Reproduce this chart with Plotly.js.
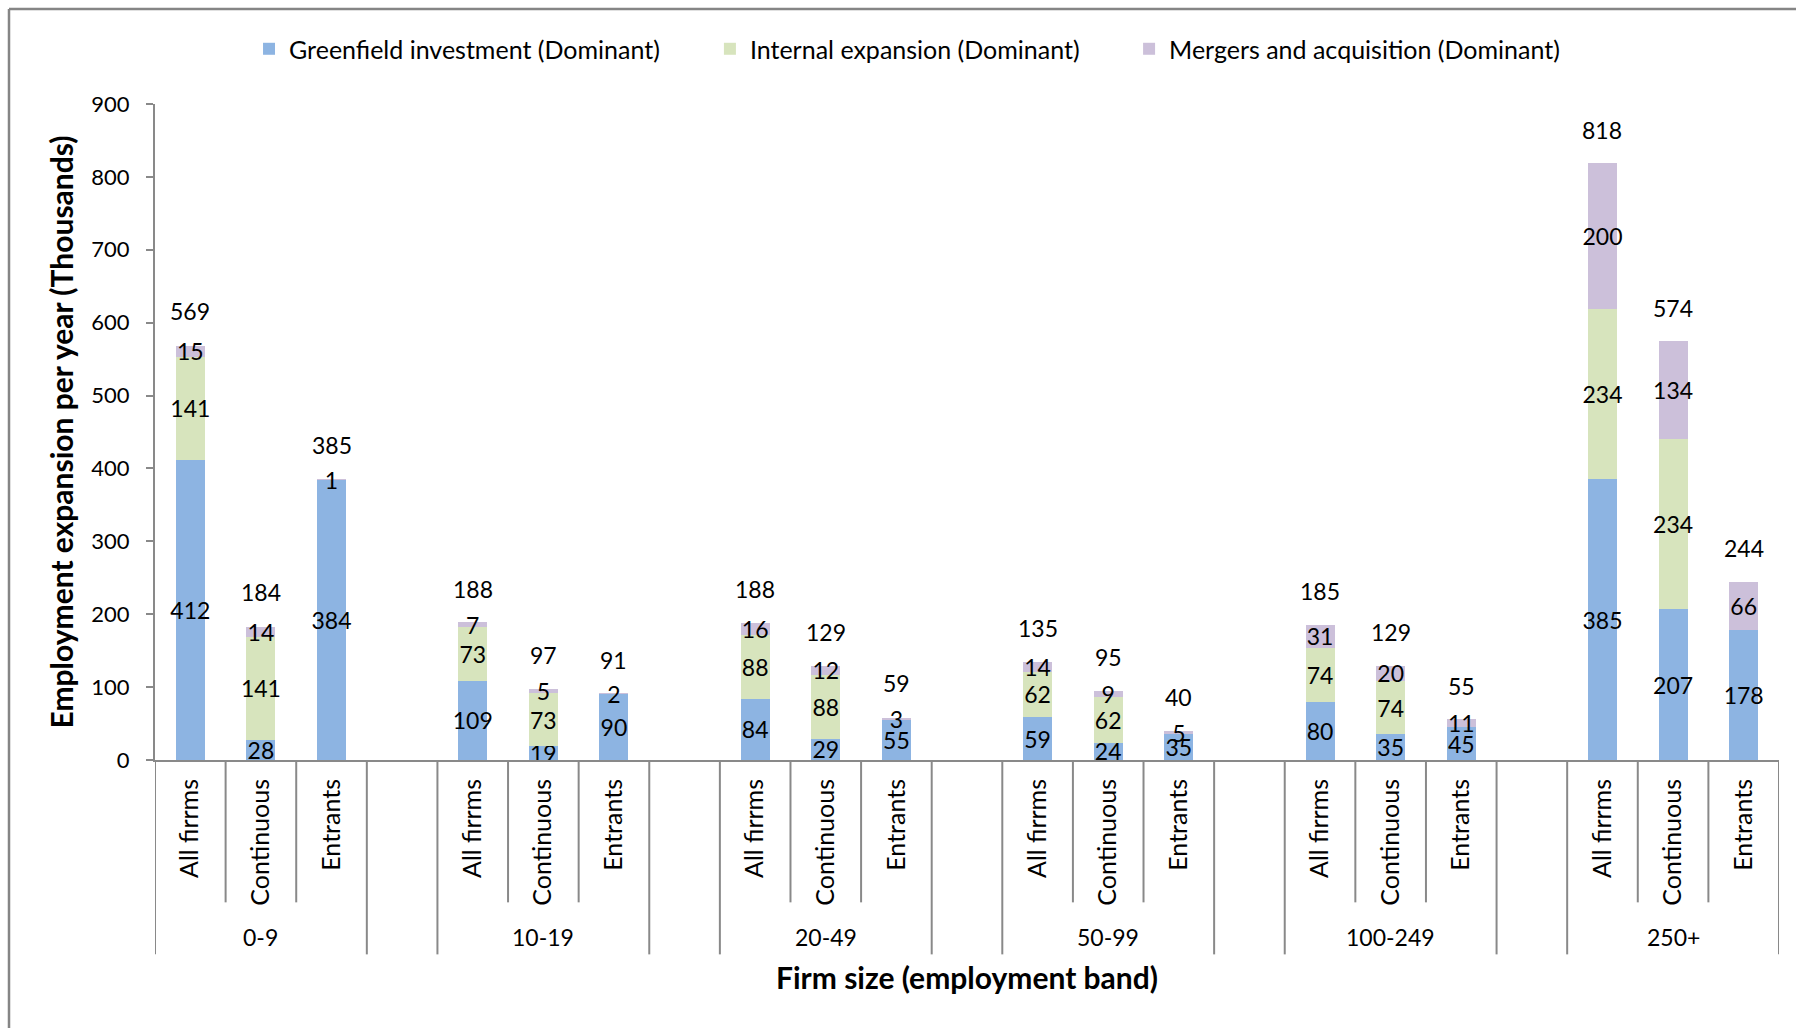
<!DOCTYPE html>
<html>
<head>
<meta charset="utf-8">
<script src="https://cdn.plot.ly/plotly-3.0.1.min.js"></script>
<style>html,body{margin:0;padding:0;background:#fff;}#chart{width:1796px;height:1028px;}</style>
</head>
<body>
<div id="chart"></div>
<script>
// ---- Data ----
const groups = ['0-9', '10-19', '20-49', '50-99', '100-249', '250+'];
const subcategories = ['All firrms', 'Continuous', 'Entrants'];
const greenfield = [412, 28, 384, 109, 19, 90, 84, 29, 55, 59, 24, 35, 80, 35, 45, 385, 207, 178];
const internal   = [141, 141, 0, 73, 73, 0, 88, 88, 0, 62, 62, 0, 74, 74, 0, 234, 234, 0];
const mergers    = [15, 14, 1, 7, 5, 2, 16, 12, 3, 14, 9, 5, 31, 20, 11, 200, 134, 66];
const totals     = [569, 184, 385, 188, 97, 91, 188, 129, 59, 135, 95, 40, 185, 129, 55, 818, 574, 244];
const seriesNames = ['Greenfield investment (Dominant)', 'Internal expansion (Dominant)', 'Mergers and acquisition (Dominant)'];
const yTicks = [0, 100, 200, 300, 400, 500, 600, 700, 800, 900];

// ---- Styling ----
const FONT = 'Lato, "Liberation Sans", sans-serif';
const colors = ['#8DB4E2', '#D7E4BD', '#CCC0DA'];
const GREY = '#898989';
const slotsPerGroup = subcategories.length + 1; // one blank slot between groups

// category positions on a linear axis: group index * 4 + sub index
const xPos = [];
const tickText = [];
groups.forEach((g, gi) => {
  subcategories.forEach((s, si) => {
    xPos.push(gi * slotsPerGroup + si);
    tickText.push(s);
  });
});
const xMax = groups.length * slotsPerGroup - 1 - 0.5;

const labelOf = v => (v === 0 ? '' : String(v));

const seriesValues = [greenfield, internal, mergers];
const legendIds = ['legend', 'legend2', 'legend3'];
const traces = seriesValues.map((vals, i) => ({
  type: 'bar',
  name: seriesNames[i],
  x: xPos,
  y: vals,
  width: 0.41,
  marker: {color: colors[i], line: {width: 0}},
  text: vals.map(labelOf),
  textposition: 'inside',
  insidetextanchor: 'middle',
  textangle: 0,
  constraintext: 'none',
  cliponaxis: false,
  insidetextfont: {family: FONT, size: 23, color: '#000'},
  textfont: {family: FONT, size: 23, color: '#000'},
  legend: legendIds[i],
  hoverinfo: 'skip'
}));

// total labels above each stacked bar
const annotations = xPos.map((x, i) => ({
  x: x, y: totals[i], xref: 'x', yref: 'y',
  text: String(totals[i]), showarrow: false,
  yanchor: 'middle', yshift: 34,
  font: {family: FONT, size: 23, color: '#000'}
}));
// group labels
groups.forEach((g, gi) => {
  annotations.push({
    x: gi * slotsPerGroup + 1, y: -0.2704, xref: 'x', yref: 'paper',
    text: g, showarrow: false, yanchor: 'middle',
    font: {family: FONT, size: 23, color: '#000'}
  });
});

// category separators below the axis
const shapes = [];
for (let gi = 0; gi < groups.length; gi++) {
  const base = gi * slotsPerGroup;
  const lines = [
    {x: base - 0.5, long: true},
    {x: base + 0.5, long: false},
    {x: base + 1.5, long: false},
    {x: base + 2.5, long: true}
  ];
  lines.forEach(l => shapes.push({
    type: 'line', xref: 'x', yref: 'paper',
    x0: l.x, x1: l.x, y0: 0, y1: l.long ? -0.2963 : -0.217,
    line: {color: GREY, width: 2}
  }));
}
// chart frame (top and left edges visible)
shapes.push({type: 'line', xref: 'paper', yref: 'paper', x0: -0.0899, x1: 1.02, y0: 1.1447, y1: 1.1447, line: {color: '#858585', width: 2.5}});
shapes.push({type: 'line', xref: 'paper', yref: 'paper', x0: -0.0899, x1: -0.0899, y0: 1.1447, y1: -0.42, line: {color: '#858585', width: 2.5}});

const legendBase = {
  orientation: 'h', yanchor: 'middle', xanchor: 'left', y: 1.0838,
  font: {family: FONT, size: 25, color: '#000'},
  bgcolor: 'rgba(0,0,0,0)', borderwidth: 0
};

const layout = {
  width: 1796, height: 1028,
  margin: {l: 155, r: 17, t: 104, b: 267.5, autoexpand: false},
  paper_bgcolor: '#fff', plot_bgcolor: '#fff',
  barmode: 'stack',
  font: {family: FONT, size: 23, color: '#000'},
  showlegend: true,
  legend: Object.assign({}, legendBase, {x: 0.0579}),
  legend2: Object.assign({}, legendBase, {x: 0.3417}),
  legend3: Object.assign({}, legendBase, {x: 0.5998}),
  xaxis: {
    range: [-0.5, xMax], tickmode: 'array', tickvals: xPos, ticktext: tickText,
    tickangle: -90, ticks: '', showgrid: false, zeroline: false,
    showline: true, linecolor: GREY, linewidth: 2,
    tickfont: {family: FONT, size: 25, color: '#000'},
    ticklabelstandoff: 7,
    automargin: false,
    title: {text: 'Firm size (employment band)', font: {family: FONT, size: 30, color: '#000', weight: 'bold'}, standoff: 63}
  },
  yaxis: {
    range: [0, 900], tickmode: 'array', tickvals: yTicks,
    ticks: 'outside', ticklen: 7, tickwidth: 2, tickcolor: GREY,
    showgrid: false, zeroline: false, showline: true, linecolor: GREY, linewidth: 2,
    tickfont: {family: FONT, size: 22, color: '#000'},
    ticklabelstandoff: 12,
    automargin: false,
    title: {text: 'Employment expansion per year (Thousands)', font: {family: FONT, size: 30, color: '#000', weight: 'bold'}, standoff: 9}
  },
  annotations: annotations,
  shapes: shapes
};

Plotly.newPlot('chart', traces, layout, {staticPlot: true, displayModeBar: false});
</script>
</body>
</html>
